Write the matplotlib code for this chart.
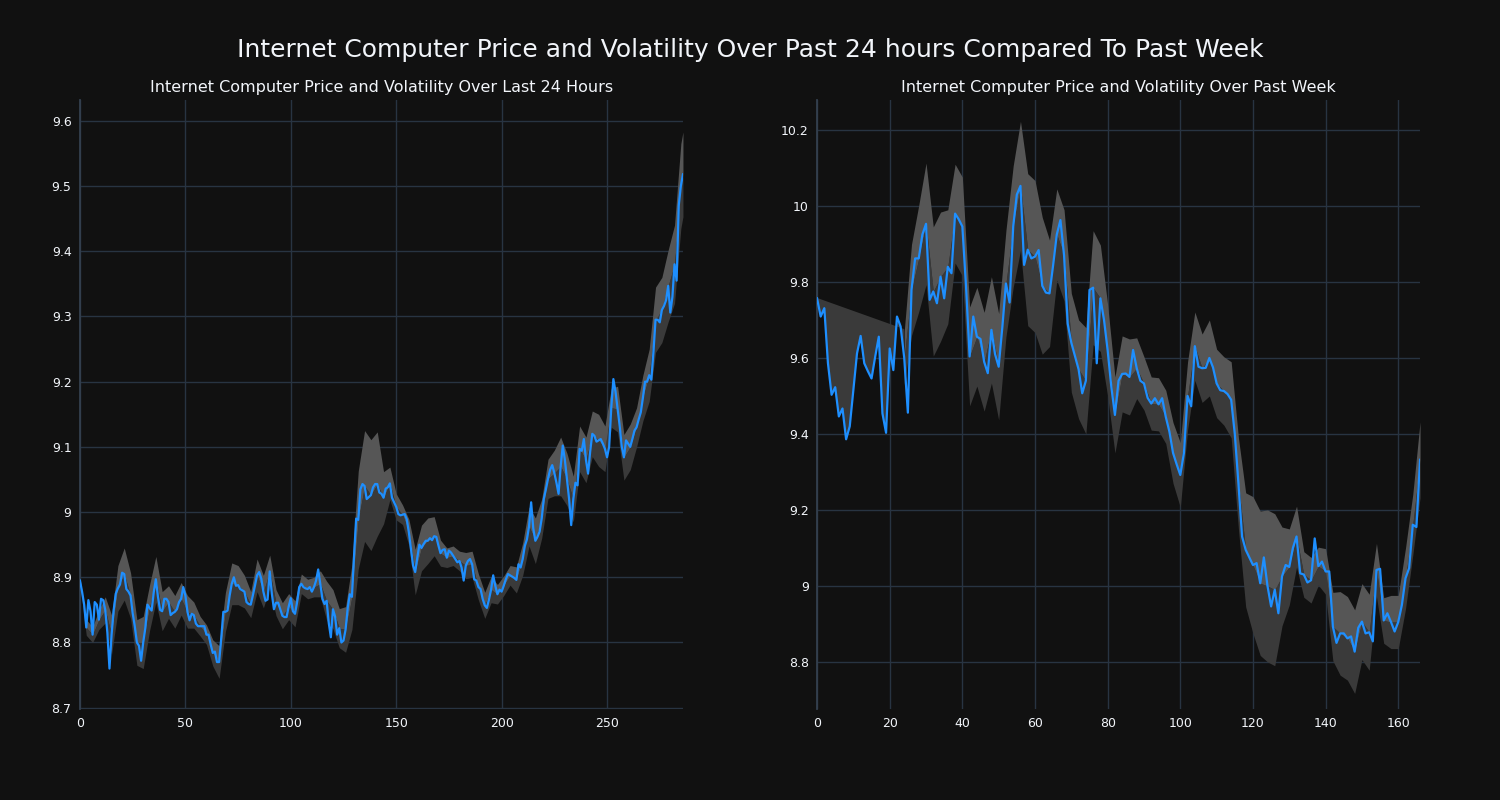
import numpy as np
import matplotlib
matplotlib.use("Agg")
import matplotlib.pyplot as plt
from matplotlib.ticker import FuncFormatter

# 24h price (5-minute steps)
day_price = [
    8.895, 8.878, 8.858, 8.823, 8.865, 8.848, 8.812, 8.862, 8.858, 8.835,
    8.867, 8.865, 8.850, 8.815, 8.760, 8.812, 8.850, 8.875, 8.883, 8.889,
    8.907, 8.905, 8.882, 8.878, 8.872, 8.845, 8.825, 8.800, 8.795, 8.772,
    8.800, 8.822, 8.858, 8.853, 8.849, 8.877, 8.897, 8.870, 8.850, 8.848,
    8.867, 8.867, 8.862, 8.842, 8.845, 8.847, 8.851, 8.862, 8.867, 8.885,
    8.872, 8.847, 8.834, 8.844, 8.842, 8.829, 8.825, 8.825, 8.825, 8.825,
    8.812, 8.812, 8.797, 8.784, 8.786, 8.770, 8.770, 8.806, 8.847, 8.847,
    8.849, 8.872, 8.890, 8.900, 8.887, 8.888, 8.882, 8.880, 8.878, 8.862,
    8.859, 8.858, 8.872, 8.887, 8.903, 8.908, 8.898, 8.878, 8.864, 8.866,
    8.909, 8.875, 8.851, 8.861, 8.861, 8.851, 8.841, 8.839, 8.839, 8.855,
    8.868, 8.848, 8.844, 8.862, 8.885, 8.890, 8.885, 8.883, 8.882, 8.885,
    8.878, 8.885, 8.895, 8.912, 8.890, 8.867, 8.859, 8.864, 8.830, 8.808,
    8.851, 8.840, 8.812, 8.822, 8.800, 8.803, 8.820, 8.853, 8.874, 8.870,
    8.933, 8.990, 8.988, 9.035, 9.043, 9.040, 9.020, 9.023, 9.026, 9.038,
    9.043, 9.043, 9.030, 9.028, 9.022, 9.036, 9.038, 9.044, 9.022, 9.015,
    9.008, 8.997, 8.995, 8.996, 8.997, 8.989, 8.969, 8.943, 8.918, 8.908,
    8.930, 8.950, 8.945, 8.951, 8.956, 8.956, 8.960, 8.957, 8.963, 8.962,
    8.949, 8.937, 8.942, 8.943, 8.930, 8.941, 8.938, 8.933, 8.928, 8.923,
    8.925, 8.915, 8.895, 8.918, 8.925, 8.928, 8.920, 8.897, 8.895, 8.885,
    8.882, 8.867, 8.857, 8.853, 8.866, 8.881, 8.903, 8.887, 8.874, 8.881,
    8.878, 8.887, 8.897, 8.905, 8.903, 8.901, 8.899, 8.896, 8.920, 8.915,
    8.928, 8.948, 8.958, 8.978, 9.015, 8.975, 8.956, 8.962, 8.970, 8.990,
    9.020, 9.035, 9.051, 9.065, 9.072, 9.060, 9.045, 9.028, 9.070, 9.102,
    9.080, 9.050, 9.020, 8.980, 9.020, 9.045, 9.041, 9.097, 9.094, 9.112,
    9.080, 9.059, 9.093, 9.120, 9.117, 9.108, 9.110, 9.112, 9.105, 9.097,
    9.084, 9.100, 9.160, 9.204, 9.185, 9.158, 9.132, 9.100, 9.084, 9.110,
    9.105, 9.100, 9.112, 9.125, 9.130, 9.142, 9.153, 9.175, 9.200, 9.200,
    9.210, 9.203, 9.245, 9.295, 9.295, 9.291, 9.310, 9.316, 9.325, 9.347,
    9.306, 9.330, 9.380, 9.355, 9.470, 9.500, 9.518,
]
# volatility (half band width) sampled every 3rd point
day_band_x = list(range(0, 287, 3)) + [286]
day_band_w = [
    0.005, 0.012, 0.012, 0.015, 0.020, 0.030, 0.035, 0.040, 0.035, 0.035,
    0.040, 0.035, 0.035, 0.030, 0.025, 0.025, 0.025, 0.025, 0.020, 0.015,
    0.015, 0.020, 0.025, 0.030, 0.032, 0.030, 0.025, 0.020, 0.025, 0.025,
    0.025, 0.020, 0.020, 0.020, 0.020, 0.015, 0.015, 0.015, 0.020, 0.030,
    0.030, 0.030, 0.035, 0.050, 0.075, 0.085, 0.085, 0.080, 0.040, 0.025,
    0.020, 0.015, 0.020, 0.035, 0.035, 0.035, 0.030, 0.020, 0.015, 0.015,
    0.015, 0.020, 0.020, 0.020, 0.020, 0.020, 0.015, 0.015, 0.015, 0.020,
    0.025, 0.030, 0.035, 0.030, 0.030, 0.035, 0.045, 0.040, 0.035, 0.035,
    0.035, 0.035, 0.040, 0.035, 0.030, 0.035, 0.035, 0.035, 0.030, 0.035,
    0.040, 0.050, 0.050, 0.055, 0.060, 0.065, 0.065,
]

# past week price (hourly)
week_price = [
    9.757, 9.709, 9.731, 9.586, 9.503, 9.523, 9.446, 9.467, 9.386, 9.420,
    9.516, 9.612, 9.658, 9.586, 9.565, 9.546, 9.603, 9.656, 9.454, 9.403,
    9.625, 9.568, 9.709, 9.683, 9.600, 9.456, 9.779, 9.862, 9.862, 9.925,
    9.953, 9.753, 9.775, 9.744, 9.814, 9.757, 9.840, 9.823, 9.980, 9.965,
    9.946, 9.790, 9.604, 9.709, 9.656, 9.650, 9.590, 9.560, 9.674, 9.610,
    9.577, 9.680, 9.796, 9.746, 9.946, 10.030, 10.053, 9.845, 9.885, 9.862,
    9.867, 9.884, 9.790, 9.772, 9.770, 9.845, 9.925, 9.963, 9.870, 9.690,
    9.640, 9.605, 9.570, 9.507, 9.540, 9.779, 9.785, 9.586, 9.757, 9.700,
    9.620, 9.525, 9.450, 9.540, 9.558, 9.559, 9.550, 9.621, 9.573, 9.540,
    9.533, 9.495, 9.480, 9.494, 9.478, 9.494, 9.445, 9.406, 9.350, 9.320,
    9.292, 9.350, 9.500, 9.473, 9.631, 9.577, 9.573, 9.574, 9.600, 9.575,
    9.533, 9.515, 9.513, 9.505, 9.490, 9.400, 9.270, 9.130, 9.095, 9.075,
    9.055, 9.060, 9.007, 9.075, 9.000, 8.946, 8.990, 8.928, 9.025, 9.055,
    9.050, 9.100, 9.130, 9.033, 9.030, 9.009, 9.015, 9.125, 9.052, 9.064,
    9.038, 9.038, 8.893, 8.850, 8.875, 8.875, 8.862, 8.867, 8.827, 8.890,
    8.906, 8.875, 8.878, 8.854, 9.042, 9.045, 8.909, 8.928, 8.905, 8.880,
    8.905, 8.950, 9.020, 9.047, 9.161, 9.155, 9.332,
]
week_band_x = list(range(24, 167, 2))
week_band_w = [
    0.07, 0.12, 0.14, 0.16, 0.17, 0.17, 0.15, 0.13, 0.13, 0.13,
    0.13, 0.13, 0.14, 0.14, 0.14, 0.16, 0.17, 0.20, 0.20, 0.18,
    0.14, 0.12, 0.12, 0.13, 0.13, 0.14, 0.15, 0.14, 0.12, 0.10,
    0.10, 0.10, 0.08, 0.07, 0.07, 0.07, 0.07, 0.08, 0.085, 0.09,
    0.09, 0.09, 0.10, 0.09, 0.09, 0.10, 0.12, 0.15, 0.18, 0.19,
    0.20, 0.20, 0.13, 0.10, 0.08, 0.06, 0.06, 0.05, 0.06, 0.09,
    0.11, 0.11, 0.11, 0.10, 0.10, 0.07, 0.06, 0.07, 0.07, 0.08,
    0.08, 0.10,
]
# rolling window warm-up: band edge before the first full window
week_warmup_x = [0, 24]
week_warmup_top = [9.758, 9.676]

BG = "#111111"
GRID = "#283442"
TEXT = "#f2f5fa"
LINE = "#1e8fff"
BAND_HI = "#565656"
BAND_LO = "#3a3a3a"


def draw(ax, price, band_x, band_w, title, xticks, xlim, ylim, yticks):
    p = np.asarray(price)
    bx = np.asarray(band_x)
    mid = p[bx]
    bw = np.asarray(band_w)
    ax.fill_between(bx, mid - bw, mid, color=BAND_LO, lw=0, zorder=2)
    ax.fill_between(bx, mid, mid + bw, color=BAND_HI, lw=0, zorder=2)
    ax.plot(np.arange(len(p)), p, color=LINE, lw=1.6, zorder=4)

    ax.set_facecolor(BG)
    ax.set_xlim(*xlim)
    ax.set_ylim(*ylim)
    ax.set_xticks(xticks)
    ax.set_yticks(yticks)
    ax.yaxis.set_major_formatter(FuncFormatter(lambda v, _: f"{v:g}"))
    ax.grid(True, color=GRID, lw=1, zorder=0)
    ax.set_axisbelow(True)
    for side in ("top", "right", "bottom"):
        ax.spines[side].set_visible(False)
    ax.spines["left"].set_color("#34404f")
    ax.spines["left"].set_linewidth(1.3)
    ax.tick_params(colors=TEXT, labelsize=9, length=0, pad=6)
    ax.set_title(title, color=TEXT, fontsize=11.5, pad=6)


fig = plt.figure(figsize=(15, 8), dpi=100, facecolor=BG)
ax1 = fig.add_axes([0.0533, 0.11375, 0.402, 0.76125])
ax2 = fig.add_axes([0.5447, 0.11375, 0.402, 0.76125])

draw(ax1, day_price, day_band_x, day_band_w,
     "Internet Computer Price and Volatility Over Last 24 Hours",
     [0, 50, 100, 150, 200, 250], (0, 286), (8.698, 9.632),
     [8.7, 8.8, 8.9, 9.0, 9.1, 9.2, 9.3, 9.4, 9.5, 9.6])

wp = np.asarray(week_price)
ax2.fill(week_warmup_x + list(range(week_warmup_x[1], -1, -1)),
         week_warmup_top + list(wp[week_warmup_x[1]::-1]),
         color=BAND_LO, lw=0, zorder=2)
draw(ax2, week_price, week_band_x, week_band_w,
     "Internet Computer Price and Volatility Over Past Week",
     [0, 20, 40, 60, 80, 100, 120, 140, 160], (0, 166), (8.676, 10.279),
     [8.8, 9.0, 9.2, 9.4, 9.6, 9.8, 10.0, 10.2])

fig.suptitle("Internet Computer Price and Volatility Over Past 24 hours Compared To Past Week",
             color=TEXT, fontsize=18, y=0.9375, va="center")

fig.savefig("out.png", dpi=100, facecolor=BG)
